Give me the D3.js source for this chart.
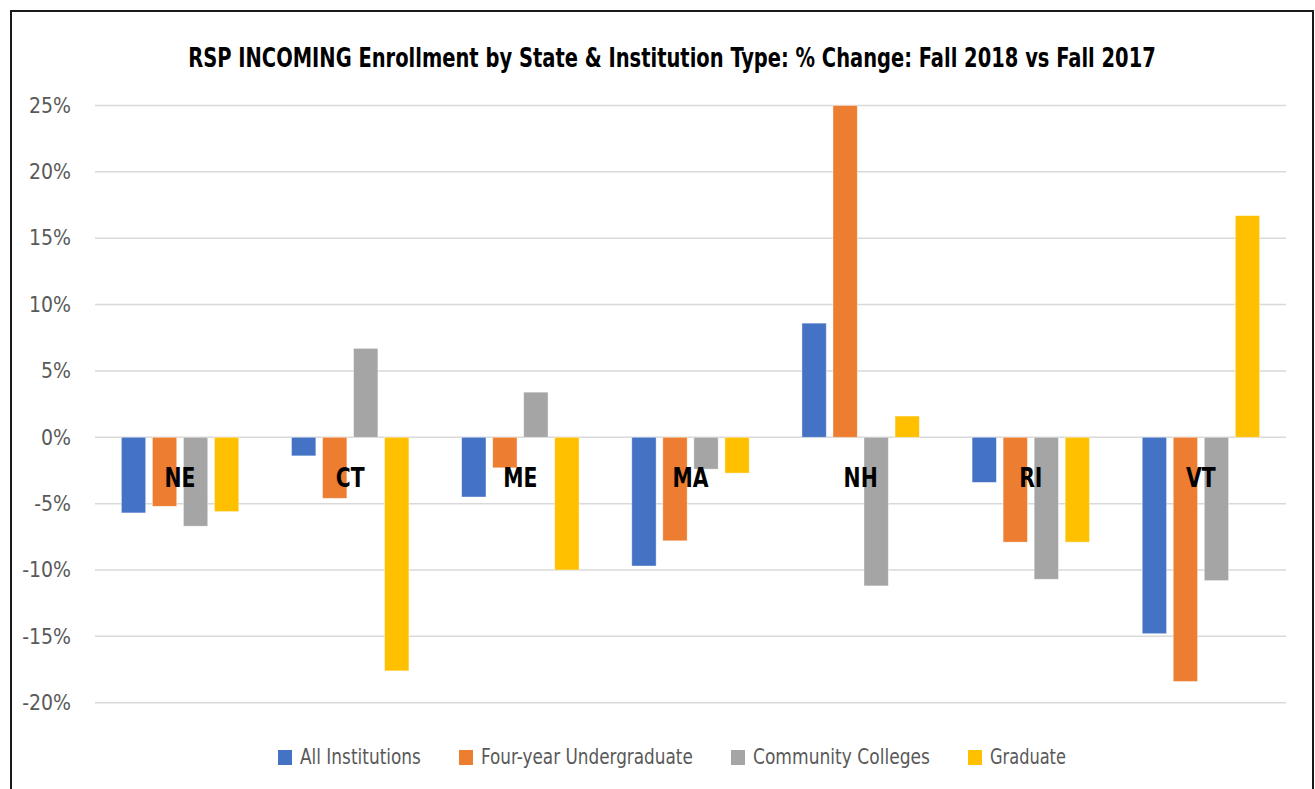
<!DOCTYPE html>
<html>
<head>
<meta charset="utf-8">
<script src="https://cdn.jsdelivr.net/npm/d3@7"></script>
<style>
  html, body { margin: 0; padding: 0; background: #ffffff; }
  svg { display: block; }
</style>
</head>
<body>
<svg id="chart" width="1315" height="789"></svg>
<script>
const categories = ["NE", "CT", "ME", "MA", "NH", "RI", "VT"];
const seriesNames = ["All Institutions", "Four-year Undergraduate", "Community Colleges", "Graduate"];
const allInstitutions      = [-5.7, -1.4, -4.5, -9.7,  8.6, -3.4, -14.8];
const fourYearUndergrad    = [-5.2, -4.6, -2.3, -7.8, 25.0, -7.9, -18.4];
const communityColleges    = [-6.7,  6.7,  3.4, -2.4, -11.2, -10.7, -10.8];
const graduate             = [-5.6, -17.6, -10.0, -2.7, 1.6, -7.9, 16.7];
const seriesColors = ["#4472C4", "#ED7D31", "#A5A5A5", "#FFC000"];
const yTicks = [25, 20, 15, 10, 5, 0, -5, -10, -15, -20];
const titleText = "RSP INCOMING Enrollment by State & Institution Type: % Change: Fall 2018 vs Fall 2017";

const seriesValues = [allInstitutions, fourYearUndergrad, communityColleges, graduate];
const data = categories.map((c, i) => ({
  cat: c,
  vals: seriesNames.map((s, j) => ({ series: s, idx: j, value: seriesValues[j][i] }))
}));

const svg = d3.select("#chart");
const W = 1315, H = 789;
const fontCond = "'Liberation Sans Narrow', 'DejaVu Sans Condensed', 'Liberation Sans', sans-serif";

svg.append("rect").attr("x", 0).attr("y", 0).attr("width", W).attr("height", H).attr("fill", "#fff");
// chart border
svg.append("rect").attr("x", 11).attr("y", 11).attr("width", 1302).attr("height", 820)
  .attr("fill", "none").attr("stroke", "#1a1a1a").attr("stroke-width", 2);

const plot = { left: 95, right: 1286, top: 105.5, bottom: 702.7 };

const y = d3.scaleLinear().domain([-20, 25]).range([plot.bottom, plot.top]);
const x0 = d3.scaleBand().domain(categories).range([plot.left, plot.right])
  .paddingInner(0.31).paddingOuter(0.155);
const x1 = d3.scaleBand().domain(seriesNames).range([0, x0.bandwidth()])
  .paddingInner(0.216).paddingOuter(0);

// gridlines
const grid = svg.append("g").attr("class", "grid");
grid.selectAll("line").data(yTicks).join("line")
  .attr("x1", plot.left).attr("x2", plot.right)
  .attr("y1", d => y(d)).attr("y2", d => y(d))
  .attr("stroke", "#d9d9d9").attr("stroke-width", 1.5);

// y axis labels
const yAxis = d3.axisLeft(y).tickValues(yTicks).tickFormat(d => d + "%").tickSize(0).tickPadding(0);
const yg = svg.append("g").attr("transform", "translate(71,0)").call(yAxis);
yg.select(".domain").remove();
yg.selectAll("text")
  .attr("font-family", fontCond).attr("font-size", 21).attr("fill", "#595959");

// bars
const groups = svg.append("g").selectAll("g").data(data).join("g")
  .attr("transform", d => `translate(${x0(d.cat)},0)`);
groups.selectAll("rect").data(d => d.vals).join("rect")
  .attr("x", d => x1(d.series))
  .attr("width", x1.bandwidth())
  .attr("y", d => y(Math.max(0, d.value)))
  .attr("height", d => Math.abs(y(d.value) - y(0)))
  .attr("fill", d => seriesColors[d.idx])
  .attr("stroke", "#ffffff").attr("stroke-opacity", 0.5).attr("stroke-width", 0.8);

// helper: horizontally scale a text (anchored middle/start) to a target width
function fitX(sel, target, ax) {
  const node = sel.node();
  const w = node.getComputedTextLength();
  const k = target / w;
  sel.attr("transform", `translate(${ax},0) scale(${k},1) translate(${-ax},0)`);
}

// category labels
svg.append("g").selectAll("text").data(categories).join("text")
  .attr("x", d => x0(d) + x0.bandwidth() / 2)
  .attr("y", 487)
  .attr("text-anchor", "middle")
  .attr("font-family", fontCond).attr("font-weight", "bold")
  .attr("font-size", 27).attr("fill", "#000")
  .text(d => d)
  .each(function(d) {
    const cx = x0(d) + x0.bandwidth() / 2;
    d3.select(this).attr("transform", `translate(${cx},0) scale(0.84,1) translate(${-cx},0)`);
  });

// title
const title = svg.append("text")
  .attr("x", 672).attr("y", 67)
  .attr("text-anchor", "middle")
  .attr("font-family", fontCond).attr("font-weight", "bold")
  .attr("font-size", 27).attr("fill", "#000")
  .text(titleText);
fitX(title, 968, 672);

// legend
const legendWidths = [121, 212, 177, 76];
const legendSquareX = [278, 459, 731, 968];
const lg = svg.append("g");
seriesNames.forEach((s, i) => {
  lg.append("rect")
    .attr("x", legendSquareX[i]).attr("y", 750).attr("width", 14).attr("height", 15)
    .attr("fill", seriesColors[i]);
  const t = lg.append("text")
    .attr("x", legendSquareX[i] + 22).attr("y", 764)
    .attr("font-family", fontCond).attr("font-size", 21).attr("fill", "#595959")
    .text(s);
  fitX(t, legendWidths[i], legendSquareX[i] + 22);
});
</script>
</body>
</html>
